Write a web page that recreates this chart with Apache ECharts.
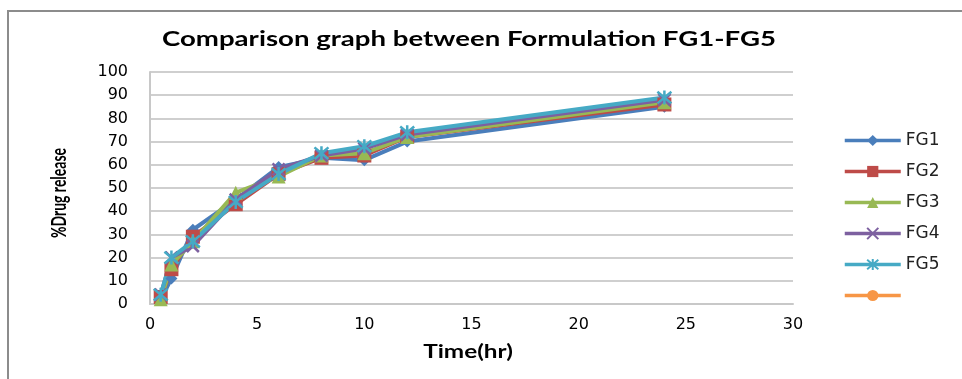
<!DOCTYPE html>
<html><head><meta charset="utf-8">
<script src="https://cdn.jsdelivr.net/npm/echarts@6/dist/echarts.min.js"></script>
<style>html,body{margin:0;padding:0;background:#fff}#c{width:962px;height:379px}</style>
</head><body><div id="c"></div>
<script>
const times = [0.5, 1, 2, 4, 6, 8, 10, 12, 24];
const fg1 = [2, 11, 32, 45, 59, 63, 62, 70, 85];
const fg2 = [3, 15, 29, 43, 56, 63, 64, 72, 86];
const fg3 = [2, 17, 27, 48, 55, 64, 65, 72, 87];
const fg4 = [4, 20, 25, 45, 58, 64, 67, 73, 88];
const fg5 = [4, 20, 27, 44, 56, 65, 68, 74, 89];
const seriesNames = ['FG1', 'FG2', 'FG3', 'FG4', 'FG5', ' '];
const seriesValues = [fg1, fg2, fg3, fg4, fg5, []];
const titleText = 'Comparison graph between Formulation FG1-FG5';
const xName = 'Time(hr)';
const yName = '%Drug release';
const colors = ['#4A7EBB', '#BE4B48', '#98B954', '#7D60A0', '#46AAC5', '#F79646'];
const symbols = ['diamond', 'rect', 'triangle',
  'path://M0,0L10,10M10,0L0,10',
  'path://M0,0L10,10M10,0L0,10M5,-1L5,11',
  'circle'];
const sizes = [12, 14, 14, 12, 14, 15];

const chart = echarts.init(document.getElementById('c'));
const series = seriesNames.map((n, i) => {
  const stroke = i === 3 || i === 4;
  return {
    name: n, type: 'line',
    data: seriesValues[i].map((v, k) => [times[k], v]),
    symbol: symbols[i], symbolSize: sizes[i],
    lineStyle: {color: colors[i], width: 4},
    itemStyle: stroke ? {color: colors[i], borderColor: colors[i], borderWidth: 2.5} : {color: colors[i]},
    emphasis: {disabled: true}
  };
});
chart.setOption({
  animation: false,
  color: colors,
  graphic: [
    {type: 'rect', shape: {x: 8, y: 11, width: 1000, height: 400},
      style: {fill: 'none', stroke: '#8c8c8c', lineWidth: 2}, silent: true},
    {type: 'text', x: 469, y: 40, scaleX: 1.38, silent: true,
      style: {text: titleText, fontFamily: 'Lato', fontWeight: 'bold', fontSize: 20, fill: '#000',
        align: 'center', verticalAlign: 'middle'}},
    {type: 'text', x: 468, y: 352, scaleX: 1.35, silent: true,
      style: {text: xName, fontFamily: 'Lato', fontWeight: 'bold', fontSize: 18, fill: '#000',
        align: 'center', verticalAlign: 'middle'}},
    {type: 'text', x: 59, y: 193, rotation: Math.PI / 2, scaleY: 1.45, silent: true,
      style: {text: yName, fontFamily: 'Lato', fontWeight: 'bold', fontSize: 14, fill: '#000',
        align: 'center', verticalAlign: 'middle'}}
  ],
  legend: {orient: 'vertical', left: 838, top: 127, itemWidth: 56, itemHeight: 14, itemGap: 14,
    data: seriesNames,
    lineStyle: {width: 3.5},
    textStyle: {fontFamily: 'DejaVu Sans', fontSize: 17, color: '#222', padding: [0, 0, 0, 0]}},
  grid: {left: 150, right: 169, top: 72, bottom: 75},
  xAxis: {type: 'value', min: 0, max: 30, interval: 5,
    axisLine: {show: true, lineStyle: {color: '#c8c8c8', width: 2}},
    axisTick: {show: false}, splitLine: {show: false},
    axisLabel: {fontFamily: 'DejaVu Sans', fontSize: 16, color: '#000', margin: 13}},
  yAxis: {type: 'value', min: 0, max: 100, interval: 10,
    axisLine: {show: true, lineStyle: {color: '#c8c8c8', width: 2}},
    axisTick: {show: false},
    splitLine: {show: true, lineStyle: {color: '#cfcfcf', width: 2}},
    axisLabel: {fontFamily: 'DejaVu Sans', fontSize: 16, color: '#000', margin: 22}},
  series: series
});
</script></body></html>
